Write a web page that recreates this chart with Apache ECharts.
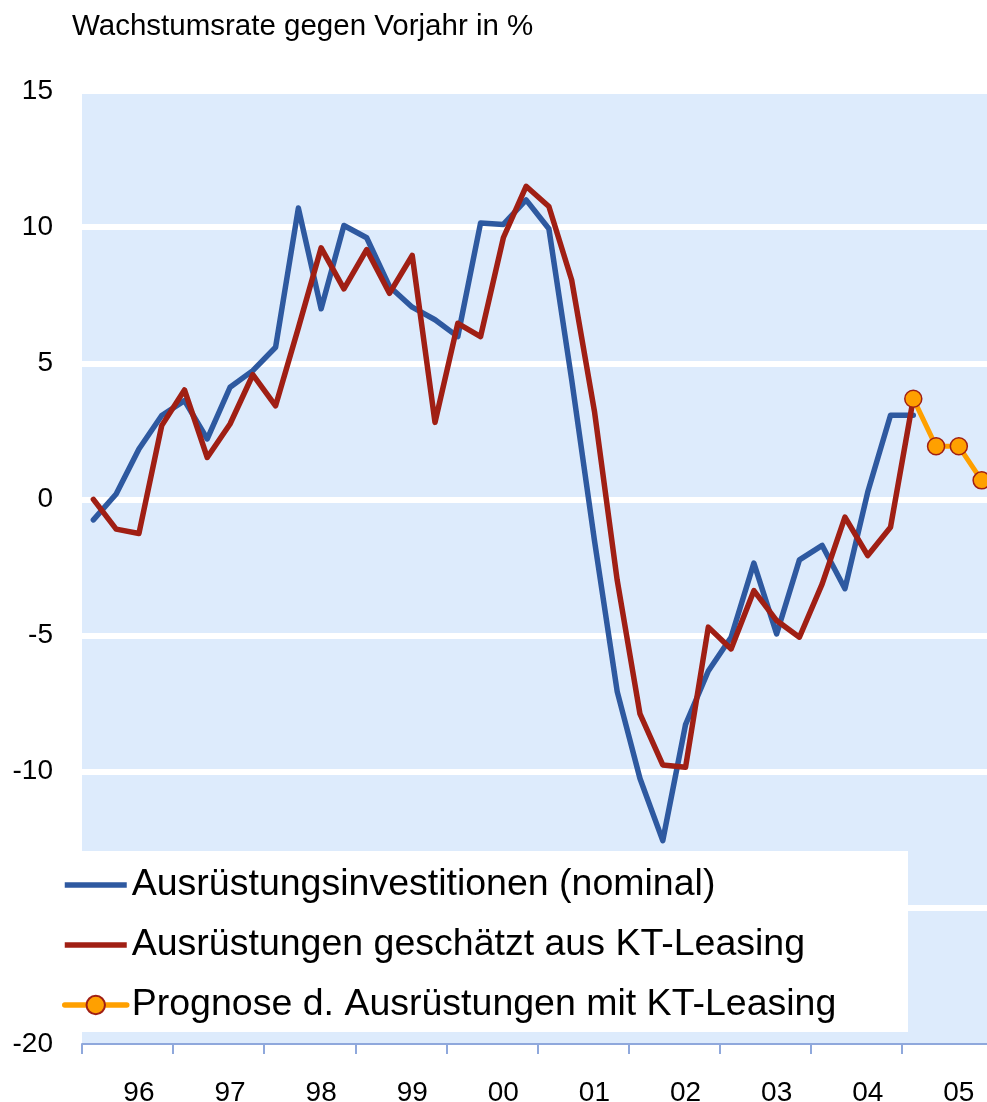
<!DOCTYPE html>
<html>
<head>
<meta charset="utf-8">
<script src="https://cdn.jsdelivr.net/npm/echarts@6/dist/echarts.min.js"></script>
<style>
  html, body { margin: 0; padding: 0; background: #ffffff; }
  #chart { width: 987px; height: 1102px; }
</style>
</head>
<body>
<div id="chart"></div>
<script>
// ---- Data ----
const years = ['96', '97', '98', '99', '00', '01', '02', '03', '04', '05'];
const quarters = ['Q1', 'Q2', 'Q3', 'Q4'];
const yTicks = { min: -20, max: 15, step: 5 };

// Ausrüstungsinvestitionen (nominal), 96Q1 .. 05Q1
const blueValues = [-0.75, 0.2, 1.85, 3.08, 3.63, 2.22, 4.12, 4.73, 5.59, 10.7,
  7.0, 10.06, 9.61, 7.82, 7.06, 6.6, 5.98, 10.15, 10.1, 11.0,
  9.94, 4.4, -1.5, -7.06, -10.25, -12.53, -8.27, -6.3, -5.06, -2.34,
  -4.94, -2.22, -1.69, -3.28, 0.27, 3.09, 3.09];

// Ausrüstungen geschätzt aus KT-Leasing, 96Q1 .. 05Q1
const redValues = [0, -1.09, -1.25, 2.71, 4.02, 1.54, 2.77, 4.58, 3.44, 6.3,
  9.24, 7.73, 9.17, 7.57, 8.96, 2.83, 6.47, 5.98, 9.61, 11.5,
  10.76, 8.06, 3.24, -2.97, -7.88, -9.75, -9.84, -4.69, -5.49, -3.35,
  -4.45, -5.06, -3.1, -0.65, -2.06, -1.02, 3.7];

// Prognose d. Ausrüstungen mit KT-Leasing, 05Q1 .. 05Q4
const orangeValues = [3.7, 1.95, 1.95, 0.7];

const seriesNames = [
  'Ausrüstungsinvestitionen (nominal)',
  'Ausrüstungen geschätzt aus KT-Leasing',
  'Prognose d. Ausrüstungen mit KT-Leasing'
];
const titleText = 'Wachstumsrate gegen Vorjahr in %';

// ---- Build ----
const categories = [];
years.forEach(y => quarters.forEach(q => categories.push(y + ' ' + q)));
const orangeStart = categories.length - orangeValues.length;
const orangeData = categories.map((c, i) => i >= orangeStart ? orangeValues[i - orangeStart] : '-');

const FONT = "'Liberation Sans', Arial, sans-serif";
const BLUE = '#2E59A0';
const RED = '#A01F14';
const ORANGE = '#FFA000';
const BG = '#DDEBFC';
const AXIS = '#8FA8DC';
const LINE_ICON = 'path://M0,0L62,0L62,5.5L0,5.5Z';

const chart = echarts.init(document.getElementById('chart'), null, { renderer: 'canvas' });

const nSplit = (yTicks.max - yTicks.min) / yTicks.step + 1;
const splitColors = [];
for (let i = 0; i < nSplit; i++) splitColors.push(i === 0 ? 'rgba(0,0,0,0)' : '#ffffff');

chart.setOption({
  animation: false,
  backgroundColor: '#ffffff',
  textStyle: { fontFamily: FONT },
  title: {
    text: titleText,
    left: 72, top: 12, padding: 0,
    textStyle: { fontFamily: FONT, fontSize: 29.5, fontWeight: 'normal', color: '#000' }
  },
  grid: {
    left: 82, right: -6, top: 91, bottom: 58,
    outerBoundsMode: 'none',
    containLabel: false,
    show: true, backgroundColor: BG, borderWidth: 0
  },
  xAxis: {
    type: 'category',
    data: categories,
    boundaryGap: true,
    axisLine: { show: true, onZero: false, lineStyle: { color: AXIS, width: 2 } },
    axisTick: {
      show: true, length: 10, lineStyle: { color: AXIS, width: 2 },
      interval: (idx) => idx % 4 === 0
    },
    axisLabel: {
      show: true, color: '#000', fontSize: 28, fontFamily: FONT, margin: 35,
      interval: (idx) => idx % 4 === 2,
      formatter: (v) => v.split(' ')[0]
    },
    splitLine: { show: false }
  },
  yAxis: {
    type: 'value',
    min: yTicks.min, max: yTicks.max, interval: yTicks.step,
    axisLine: { show: false },
    axisTick: { show: false },
    axisLabel: { color: '#000', fontSize: 28, fontFamily: FONT, margin: 29 },
    splitLine: { show: true, lineStyle: { color: splitColors, width: 6 } }
  },
  legend: {
    data: [
      { name: seriesNames[0], icon: LINE_ICON },
      { name: seriesNames[1], icon: LINE_ICON },
      { name: seriesNames[2] }
    ],
    orient: 'vertical',
    left: 62, top: 866,
    padding: 0,
    itemGap: 22,
    itemWidth: 62,
    itemHeight: 23,
    symbolKeepAspect: true,
    lineStyle: { width: 5.5, cap: 'round' },
    z: 10,
    textStyle: { fontFamily: FONT, fontSize: 37.5, color: '#000' }
  },
  graphic: [{
    type: 'rect',
    z: 5,
    shape: { x: 0, y: 851, width: 908, height: 181 },
    style: { fill: '#ffffff' },
    silent: true
  }],
  series: [
    {
      name: seriesNames[0], type: 'line', data: blueValues,
      symbol: 'none', z: 2,
      lineStyle: { color: BLUE, width: 5.5, cap: 'round', join: 'round' },
      itemStyle: { color: BLUE }
    },
    {
      name: seriesNames[1], type: 'line', data: redValues,
      symbol: 'none', z: 3,
      lineStyle: { color: RED, width: 5.5, cap: 'round', join: 'round' },
      itemStyle: { color: RED }
    },
    {
      name: seriesNames[2], type: 'line', data: orangeData,
      symbol: 'circle', symbolSize: 17, showSymbol: true, showAllSymbol: true, z: 4,
      lineStyle: { color: ORANGE, width: 5, cap: 'round', join: 'round' },
      itemStyle: { color: ORANGE, borderColor: RED, borderWidth: 1.5 }
    }
  ]
});
</script>
</body>
</html>
